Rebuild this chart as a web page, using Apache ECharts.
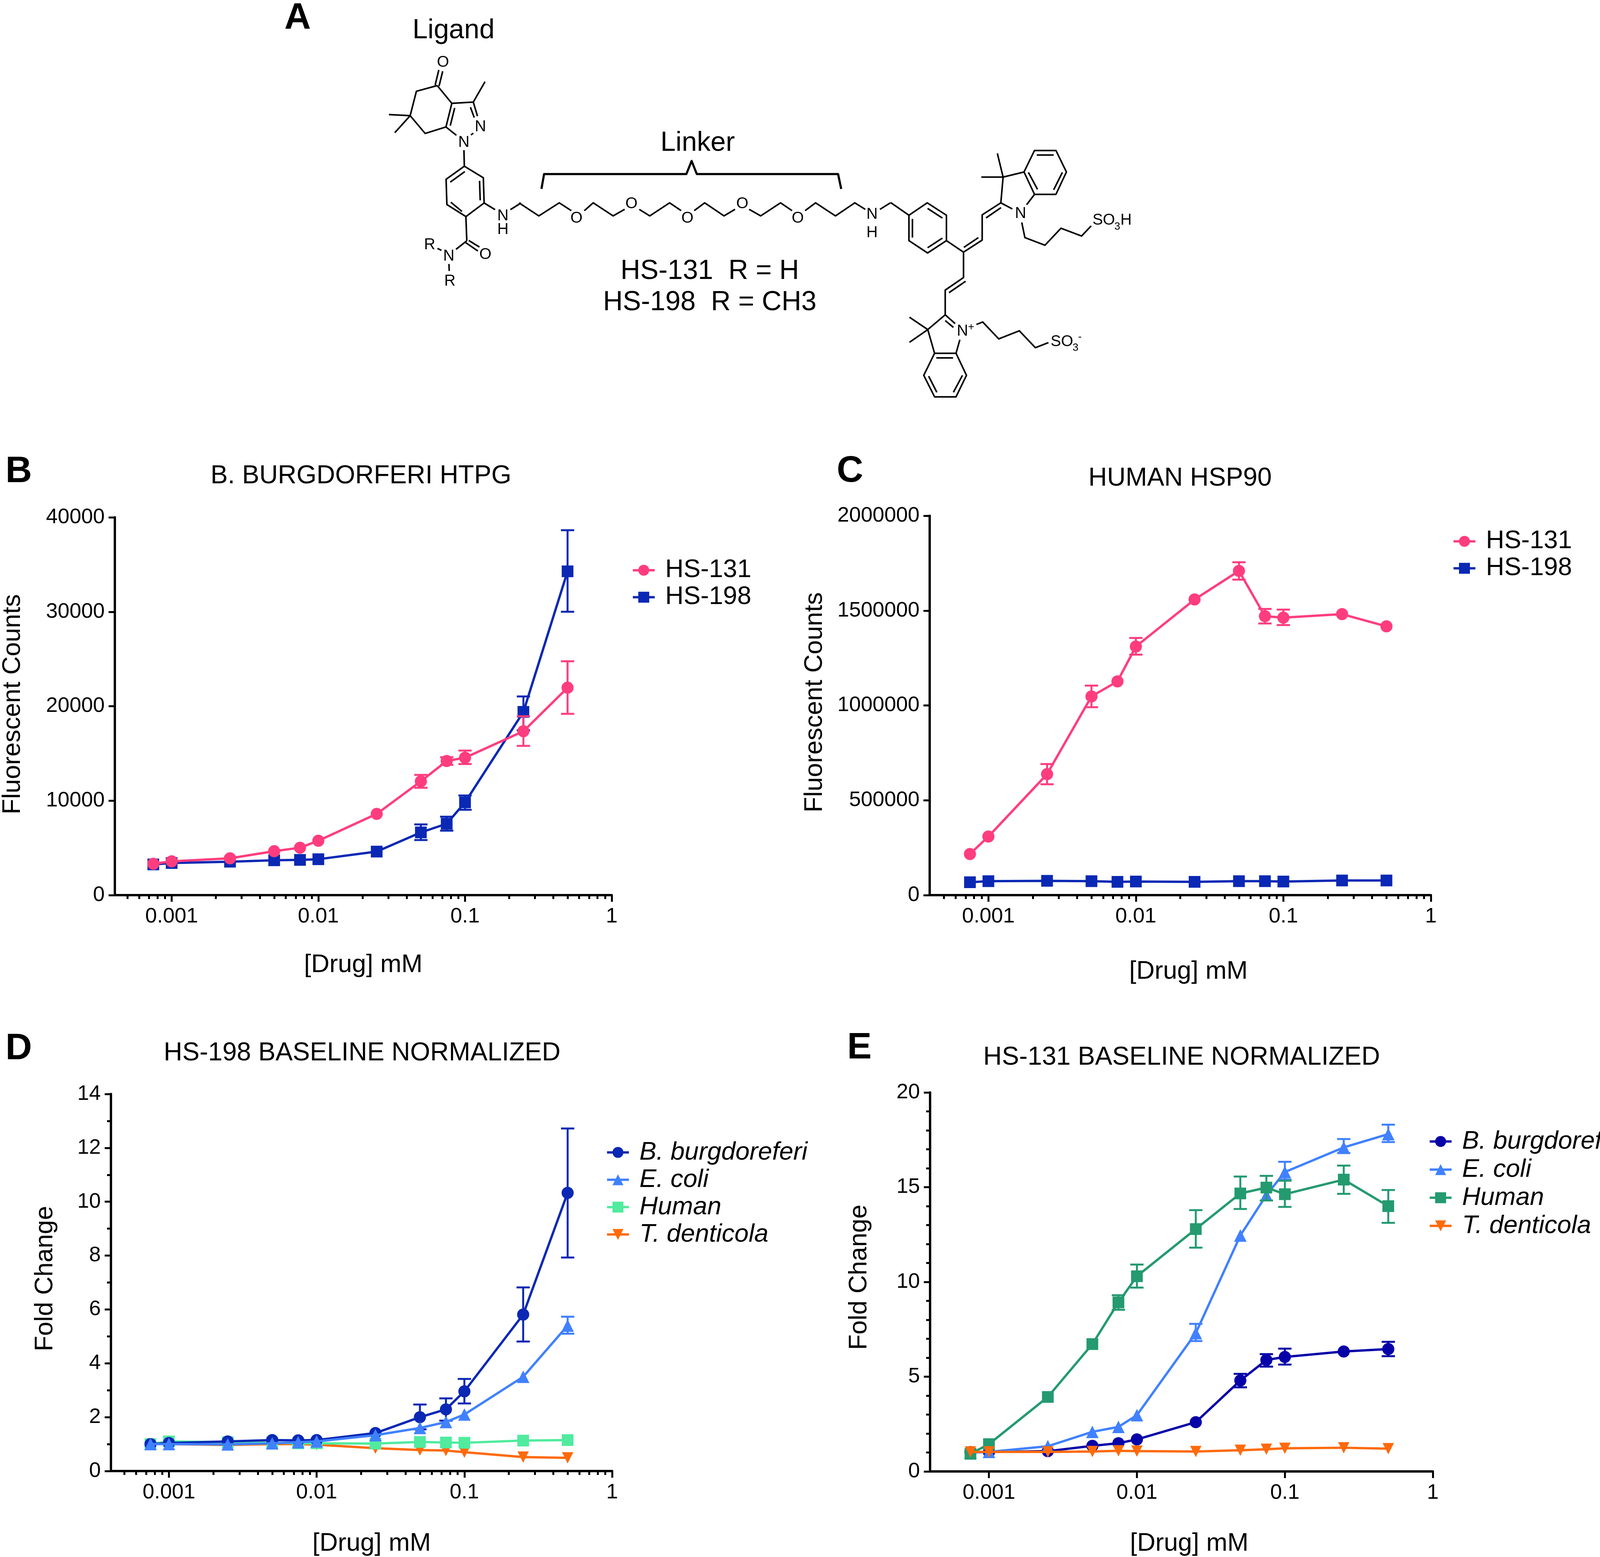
<!DOCTYPE html>
<html><head><meta charset="utf-8">
<style>html,body{margin:0;padding:0;background:#fff}#c{width:4180px;height:3985px}</style>
<script src="https://cdn.jsdelivr.net/npm/echarts@6/dist/echarts.min.js"></script>
</head><body><div id="c"></div>
<script>
const doses = [0.00075,0.001,0.0025,0.005,0.0075,0.01,0.025,0.05,0.075,0.1,0.25,0.5];
const decadeTicks = [0.001,0.01,0.1,1];
const minorTicks = [0.0005,0.0006,0.0007,0.0008,0.0009,0.002,0.003,0.004,0.005,0.006,0.007,0.008,0.009,0.02,0.03,0.04,0.05,0.06,0.07,0.08,0.09,0.2,0.3,0.4,0.5,0.6,0.7,0.8,0.9];

// Panel B
const bHs131 = [3320,3580,3900,4650,5020,5760,8600,12050,14200,14550,17350,21960];
const bHs131Low = [null,null,null,null,null,null,null,11370,13800,13880,15800,19190];
const bHs131High = [null,null,null,null,null,null,null,12730,14600,15300,18930,24760];
const bHs198 = [3250,3400,3540,3690,3730,3800,4610,6640,7560,9820,19400,34280];
const bHs198Low = [null,null,null,null,null,null,null,5830,6830,9040,17450,30000];
const bHs198High = [null,null,null,null,null,null,null,7490,8300,10550,21030,38630];
// Panel C
const cHs131 = [216900,308800,637800,1047600,1126700,1310500,1558600,1709300,1470400,1463000,1481400,1417000];
const cHs131Low = [null,null,584500,990700,null,1268000,null,1663000,1431800,1424000,null,null];
const cHs131High = [null,null,691000,1104600,null,1356000,null,1755000,1509000,1505000,null,null];
const cHs198 = [68000,73500,75400,73500,70000,71700,70000,73500,73500,71700,77200,77200];
// Panel D
const dBb = [1.0,1.04,1.1,1.15,1.14,1.15,1.41,2.0,2.29,2.96,5.81,10.33];
const dBbLow = [null,null,null,null,null,null,null,1.55,1.87,2.51,4.81,7.93];
const dBbHigh = [null,null,null,null,null,null,null,2.47,2.7,3.42,6.82,12.72];
const dEc = [1.0,1.0,0.99,1.03,1.07,1.1,1.33,1.6,1.82,2.1,3.5,5.4];
const dEcLow = [null,null,null,null,null,null,null,null,null,null,null,5.1];
const dEcHigh = [null,null,null,null,null,null,null,null,null,null,null,5.73];
const dHuman = [1.0,1.1,1.07,1.05,1.03,1.03,1.02,1.08,1.06,1.05,1.13,1.15];
const dTd = [1.0,1.0,0.97,1.0,1.0,0.98,0.85,0.78,0.76,0.7,0.52,0.49];
// Panel E
const eBb = [1.02,1.02,1.07,1.35,1.49,1.69,2.6,4.8,5.88,6.04,6.33,6.46];
const eBbLow = [null,null,null,null,null,null,null,4.44,5.53,5.64,null,6.08];
const eBbHigh = [null,null,null,null,null,null,null,5.15,6.19,6.48,null,6.84];
const eEc = [1.0,1.03,1.33,2.09,2.35,2.97,7.3,12.45,14.58,15.8,17.1,17.8];
const eEcLow = [null,null,null,null,null,null,6.88,null,null,15.4,16.8,17.38];
const eEcHigh = [null,null,null,null,null,null,7.79,null,null,16.34,17.54,18.3];
const eHuman = [0.93,1.44,3.93,6.72,8.92,10.3,12.79,14.67,14.98,14.63,15.4,14.0];
const eHumanLow = [null,null,null,null,8.53,9.7,11.81,13.85,14.3,13.96,14.65,13.12];
const eHumanHigh = [null,null,null,null,9.3,10.92,13.79,15.56,15.6,15.34,16.14,14.85];
const eTd = [1.03,1.03,1.03,1.05,1.09,1.07,1.05,1.12,1.17,1.22,1.25,1.2];

const FONT = '"Liberation Sans", Arial, sans-serif';
const PINK='#FF3D7E', BLUE='#0A28B4', NAVY='#0600A8', SKY='#4081FF', MINT='#50EB9E', TEAL='#249A70', ORANGE='#FF6A0A';
const tri = {symbol:'triangle', size:32, rotate:0};
const sq = {symbol:'rect', size:30, rotate:0};
const cir = {symbol:'circle', size:31, rotate:0};
const dtri = {symbol:'triangle', size:29, rotate:180};

const panels = [
 {title:'B. BURGDORFERI HTPG', tx:924, ty:1219, l:284, r:1566, t:1324, b:2291, xmin:0.00041, ymax:40000, yint:10000, ysplit:0, minor:true,
  yName:'Fluorescent Counts', yGap:228, yPad:10, xShift:0, xGap:147,
  legend:{l:1617, t:1427, gap:4, italic:false, textGap:22},
  series:[
   {name:'HS-198',color:BLUE,m:sq,v:bHs198,lo:bHs198Low,hi:bHs198High},
   {name:'HS-131',color:PINK,m:cir,v:bHs131,lo:bHs131Low,hi:bHs131High}], order:['HS-131','HS-198']},
 {title:'HUMAN HSP90', tx:3021, ty:1225, l:2380, r:3663, t:1320, b:2291, xmin:0.0004, ymax:2000000, yint:500000, ysplit:0, minor:true,
  yName:'Fluorescent Counts', yGap:261, yPad:16, xShift:21, xGap:164,
  legend:{l:3718, t:1353, gap:4, italic:false, textGap:22},
  series:[
   {name:'HS-198',color:BLUE,m:sq,v:cHs198},
   {name:'HS-131',color:PINK,m:cir,v:cHs131,lo:cHs131Low,hi:cHs131High}], order:['HS-131','HS-198']},
 {title:'HS-198 BASELINE NORMALIZED', tx:927, ty:2696, l:284, r:1567, t:2800, b:3767, xmin:0.000405, ymax:14, yint:2, ysplit:2, minor:true,
  yName:'Fold Change', yGap:135, yPad:20, xShift:26, xGap:154,
  legend:{l:1551, t:2917, gap:5, italic:true, textGap:22},
  series:[
   {name:'T. denticola',color:ORANGE,m:dtri,v:dTd},
   {name:'Human',color:MINT,m:sq,v:dHuman},
   {name:'B. burgdoreferi',color:BLUE,m:cir,v:dBb,lo:dBbLow,hi:dBbHigh},
   {name:'E. coli',color:SKY,m:tri,v:dEc,lo:dEcLow,hi:dEcHigh}], order:['B. burgdoreferi','E. coli','Human','T. denticola']},
 {title:'HS-131 BASELINE NORMALIZED', tx:3025, ty:2707, l:2381, r:3668, t:2796, b:3767, xmin:0.0004, ymax:20, yint:5, ysplit:5, minor:false,
  yName:'Fold Change', yGap:148, yPad:24, xShift:20, xGap:153,
  legend:{l:3657, t:2889, gap:7, italic:true, textGap:22},
  series:[
   {name:'B. burgdoreferi',color:NAVY,m:cir,v:eBb,lo:eBbLow,hi:eBbHigh},
   {name:'E. coli',color:SKY,m:tri,v:eEc,lo:eEcLow,hi:eEcHigh},
   {name:'Human',color:TEAL,m:sq,v:eHuman,lo:eHumanLow,hi:eHumanHigh},
   {name:'T. denticola',color:ORANGE,m:dtri,v:eTd}], order:['B. burgdoreferi','E. coli','Human','T. denticola']}
];

// Chemical structure in panel A, as polylines (flat x,y lists) in three local drawing frames.
const ligandFrame = {ox:960, oy:130, sx:3, sy:2.529};
const ligandBonds = [
 [478,225,318,262,270,420,385,535,545,493,590,340,478,225],
 [462,222,490,124],[492,228,520,132],
 [270,420,107,413],[270,420,152,530],
 [590,340,755,332,845,200],[612,370,578,485],
 [755,332,787,423],[733,365,762,432],[737,545,755,533],[545,493,625,547],
 [683,643,686,747],
 [686,747,832,822,838,985,698,1073,552,995,546,832,686,747],
 [690,782,578,850],[803,842,808,968],[668,1040,582,980],
 [838,985,922,1028],[1040,1028,1122,985],
 [698,1073,705,1230],[705,1230,622,1285],[720,1228,802,1270],[697,1242,790,1296],
 [510,1292,480,1279],[568,1380,570,1425]
];
const ligandAtoms = [['O',522,68],['N',810,487],['N',682,588],['N',982,1062],['H',982,1152],['R',420,1250],['N',567,1322],['R',575,1485],['O',848,1312]];
const linkerFrame = {ox:900, oy:0, sx:0.7467, sy:1.493};
const linkerBonds = [
 [320,775,358,825,397,775,420,805],[445,805,462,775,500,825,522,800],
 [550,800,570,825,608,775,630,805],[655,805,675,775,712,825,733,800],
 [760,800,782,825,820,775,842,805],[867,805,887,775,925,825,962,775,982,800],
 [1010,800,1030,775]
];
const braceLine = [363,722,368,665,640,665,650,615,660,665,930,665,936,722];
const linkerAtoms = [['O',430,830],['O',535,775],['O',642,830],['O',747,775],['O',853,830],['N',995,815],['H',995,885]];
const dyeFrame = {ox:2280, oy:360, sx:2.24, sy:2.306};
const dyeBonds = [
 [0,365,105,440],
 [105,440,210,367,320,440,320,590,212,663,105,590,105,440],
 [125,462,125,572],[212,400,297,457],[212,632,297,575],
 [320,590,418,658,525,587,525,438,632,367,698,403],
 [420,630,503,572],[547,456,633,395],
 [632,367,645,215,612,75],[645,215,520,215],[645,215,765,185],
 [765,185,825,58,948,58,1008,185,948,317,825,317,765,185],
 [838,85,935,85],[985,187,935,290],[790,187,842,287],[825,317,780,378],
 [752,483,770,572,885,617,977,517,1095,563,1150,503],
 [418,658,418,808,313,882,313,1028,370,1080],[430,830,335,897],[313,1062,360,1102],
 [313,1028,213,1115,108,1042],[213,1115,108,1190],[213,1115,252,1255,375,1255,397,1175],[262,1282,358,1282],
 [252,1255,190,1385,252,1512,375,1512,435,1385,375,1255],[218,1390,265,1485],[360,1485,412,1385],
 [492,1085,528,1070,620,1170,738,1122,830,1222,905,1192]
];
const dyeAtoms = [['N',745,425],['SO',1222,465],['H',1350,465],['N',412,1118],['SO',982,1180]];
const dyeSmall = [['3',1300,505],['+',462,1098],['3',1060,1220],['-',1085,1155]];
const bigLabels = [['Ligand',1161,74],['Linker',1786,362],['HS-131  R = H',1817,690],['HS-198  R = CH3',1817,770]];
const panelLetters = [['A',762,41],['B',48,1201],['C',2176,1200],['D',48,2678],['E',2200,2676]];

function frameXY(f,x,y){return [f.ox+x/f.sx, f.oy+y/f.sy];}
function bondEls(list,f,w){return list.map(b=>{const pts=[];for(let i=0;i<b.length;i+=2)pts.push(frameXY(f,b[i],b[i+1]));
  return {type:'polyline',silent:true,shape:{points:pts},style:{stroke:'#000',lineWidth:w,fill:null,lineJoin:'round'}};});}
function textEl(t,x,y,size,weight){return {type:'text',silent:true,x:x,y:y+size*0.07,style:{text:t,x:0,y:0,fill:'#000',font:(weight||'normal')+' '+size+'px '+FONT,textAlign:'center',textVerticalAlign:'middle',align:'center',verticalAlign:'middle'}};}
function atomEls(list,f,size){return list.map(a=>{const p=frameXY(f,a[1],a[2]);return textEl(a[0],p[0],p[1],size);});}

const graphicEls = [].concat(
 bondEls(ligandBonds,ligandFrame,4), bondEls(linkerBonds,linkerFrame,4), bondEls(dyeBonds,dyeFrame,4),
 bondEls([braceLine],linkerFrame,5.5),
 atomEls(ligandAtoms,ligandFrame,40), atomEls(linkerAtoms,linkerFrame,40), atomEls(dyeAtoms,dyeFrame,40), atomEls(dyeSmall,dyeFrame,27),
 bigLabels.map(a=>textEl(a[0],a[1],a[2],70)),
 panelLetters.map(a=>textEl(a[0],a[1],a[2],94,'bold'))
);

const grid=[],xAxis=[],yAxis=[],series=[],legend=[],title=[];
panels.forEach((p,idx)=>{
  grid.push({left:p.l,top:p.t,width:p.r-p.l,height:p.b-p.t,containLabel:false});
  title.push({text:p.title,left:p.tx,top:p.ty,textAlign:'center',textVerticalAlign:'middle',padding:0,
    textStyle:{fontFamily:FONT,fontSize:66,fontWeight:'normal',color:'#000'}});
  xAxis.push({type:'log',gridIndex:idx,min:p.xmin,max:1,logBase:10,position:'bottom',
    name:'[Drug] mM',nameLocation:'middle',nameGap:p.xGap,
    nameTextStyle:{fontFamily:FONT,fontSize:65,color:'#000',padding:[0,0,0,2*p.xShift]},
    axisLine:{show:true,onZero:false,lineStyle:{color:'#000',width:6}},
    axisTick:{show:true,length:17,lineStyle:{color:'#000',width:5},customValues:decadeTicks},
    axisLabel:{show:true,margin:28,fontFamily:FONT,fontSize:54,color:'#000',customValues:decadeTicks,hideOverlap:false,showMinLabel:true,showMaxLabel:true,
      formatter:v=>String(+Number(v).toPrecision(3))},
    splitLine:{show:false},minorSplitLine:{show:false}});
  xAxis.push({type:'log',gridIndex:idx,min:p.xmin,max:1,logBase:10,position:'bottom',
    axisLine:{show:false,onZero:false},
    axisTick:{show:p.minor,length:10,lineStyle:{color:'#000',width:5},customValues:minorTicks},
    axisLabel:{show:false},splitLine:{show:false}});
  yAxis.push({type:'value',gridIndex:idx,min:0,max:p.ymax,interval:p.yint,
    name:p.yName,nameLocation:'middle',nameGap:p.yGap,nameRotate:90,
    nameTextStyle:{fontFamily:FONT,fontSize:65,color:'#000',padding:[0,0,0,p.yPad]},
    axisLine:{show:true,onZero:false,lineStyle:{color:'#000',width:6}},
    axisTick:{show:true,length:16,lineStyle:{color:'#000',width:5}},
    minorTick:{show:p.ysplit>0,splitNumber:p.ysplit||5,length:10,lineStyle:{color:'#000',width:5}},
    axisLabel:{margin:26,fontFamily:FONT,fontSize:54,color:'#000',formatter:v=>String(v)},
    splitLine:{show:false}});
  const xi=idx*2;
  p.series.forEach((s,j)=>{
    const z=3+j*2;
    if(s.lo){
      const pts=[];
      s.lo.forEach((lo,i)=>{if(lo!=null)pts.push([doses[i],lo,s.hi[i]]);});
      series.push({type:'custom',name:s.name+' error',xAxisIndex:xi,yAxisIndex:idx,z:z,silent:true,clip:false,
        encode:{x:0,y:[1,2]},data:pts,
        renderItem:(params,api)=>{
          const a=api.coord([api.value(0),api.value(1)]),b=api.coord([api.value(0),api.value(2)]);
          const st={stroke:s.color,lineWidth:5,fill:null},c=17;
          return {type:'group',children:[
            {type:'line',shape:{x1:a[0],y1:a[1],x2:b[0],y2:b[1]},style:st},
            {type:'line',shape:{x1:a[0]-c,y1:a[1],x2:a[0]+c,y2:a[1]},style:st},
            {type:'line',shape:{x1:b[0]-c,y1:b[1],x2:b[0]+c,y2:b[1]},style:st}]};
        }});
    }
    series.push({type:'line',name:s.name,xAxisIndex:xi,yAxisIndex:idx,z:z,clip:false,
      data:doses.map((d,i)=>[d,s.v[i]]),
      symbol:s.m.symbol,symbolSize:s.m.size,symbolRotate:s.m.rotate,showSymbol:true,showAllSymbol:true,
      lineStyle:{color:s.color,width:6},itemStyle:{color:s.color,borderWidth:0},emphasis:{disabled:true}});
  });
  legend.push({show:true,left:p.legend.l,top:p.legend.t,orient:'vertical',itemWidth:56,itemHeight:35,itemGap:p.legend.gap,padding:0,selectedMode:false,
    textStyle:{fontFamily:FONT,fontSize:65,color:'#000',fontStyle:p.legend.italic?'italic':'normal',padding:[0,0,0,p.legend.textGap]},
    data:p.order.map(n=>{const s=p.series.find(q=>q.name===n);
      return {name:n,itemStyle:{color:s.color},lineStyle:{color:s.color,width:6},textStyle:{fontStyle:p.legend.italic?'italic':'normal'}};})});
});

const chart=echarts.init(document.getElementById('c'),null,{renderer:'canvas',width:4180,height:3985,devicePixelRatio:1});
chart.setOption({animation:false,backgroundColor:'#fff',grid,xAxis,yAxis,series,legend,title,graphic:{elements:graphicEls}});
</script></body></html>
